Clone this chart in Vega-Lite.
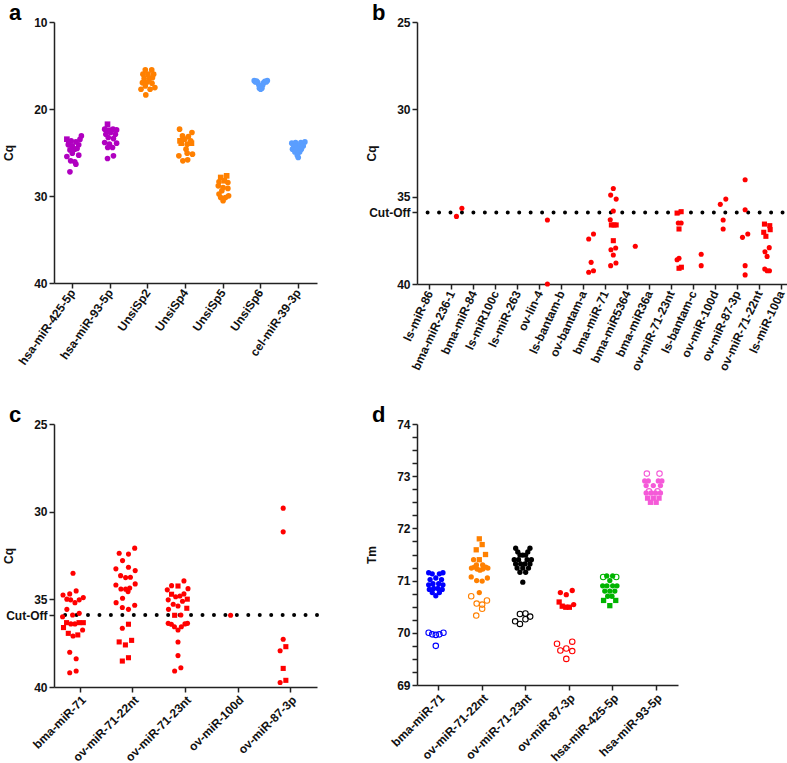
{
"$schema":"https://vega.github.io/schema/vega-lite/v6.json",
"padding":{"left":2,"top":2,"right":0,"bottom":0},
"background":"white",
"config":{"view":{"stroke":null},"font":"Liberation Sans",
"axis":{"domainColor":"#222","domainWidth":1.5,"tickColor":"#222","tickWidth":1.5,"tickSize":5,"labelFont":"Liberation Sans","labelFontWeight":"bold","labelFontSize":12,"labelColor":"#111","titleFont":"Liberation Sans","titleFontWeight":"bold","titleFontSize":12,"titleColor":"#111","grid":false,"labelPadding":2,"labelOverlap":false,"titleBaseline":"middle","titleX":-46},
"title":{"font":"Liberation Sans","fontWeight":"bold","fontSize":22,"anchor":"start","frame":"group","dx":-45,"offset":-9,"color":"#000"}},
"resolve":{"scale":{"color":"independent","shape":"independent"}},
"datasets":{
"a":[
{"gene":"hsa-miR-425-5p","cq":23.09,"jit":12,"batch":"1"},{"gene":"hsa-miR-425-5p","cq":23.47,"jit":-8.3,"batch":"2"},{"gene":"hsa-miR-425-5p","cq":23.66,"jit":-2.3,"batch":"1"},{"gene":"hsa-miR-425-5p","cq":23.78,"jit":4.3,"batch":"1"},{"gene":"hsa-miR-425-5p","cq":24.12,"jit":8.3,"batch":"1"},{"gene":"hsa-miR-425-5p","cq":24.12,"jit":-6.3,"batch":"1"},{"gene":"hsa-miR-425-5p","cq":24.24,"jit":-0.7,"batch":"1"},{"gene":"hsa-miR-425-5p","cq":24.62,"jit":2.7,"batch":"1"},{"gene":"hsa-miR-425-5p","cq":24.7,"jit":-4,"batch":"1"},{"gene":"hsa-miR-425-5p","cq":25.08,"jit":-0.7,"batch":"1"},{"gene":"hsa-miR-425-5p","cq":25.31,"jit":8.3,"batch":"1"},{"gene":"hsa-miR-425-5p","cq":25.46,"jit":-8.3,"batch":"1"},{"gene":"hsa-miR-425-5p","cq":25.96,"jit":-3,"batch":"1"},{"gene":"hsa-miR-425-5p","cq":26.07,"jit":2.7,"batch":"1"},{"gene":"hsa-miR-425-5p","cq":26.34,"jit":4.3,"batch":"1"},{"gene":"hsa-miR-425-5p","cq":27.22,"jit":-4,"batch":"1"},{"gene":"hsa-miR-425-5p","cq":23.78,"jit":-5.7,"batch":"2"},{"gene":"hsa-miR-425-5p","cq":24.54,"jit":6,"batch":"1"},{"gene":"hsa-miR-425-5p","cq":23.5,"jit":10,"batch":"1"},
{"gene":"hsa-miR-93-5p","cq":21.75,"jit":-4,"batch":"2"},{"gene":"hsa-miR-93-5p","cq":22.32,"jit":-8,"batch":"1"},{"gene":"hsa-miR-93-5p","cq":22.44,"jit":-3,"batch":"2"},{"gene":"hsa-miR-93-5p","cq":22.32,"jit":3.7,"batch":"1"},{"gene":"hsa-miR-93-5p","cq":22.4,"jit":8.7,"batch":"1"},{"gene":"hsa-miR-93-5p","cq":22.9,"jit":-6.3,"batch":"1"},{"gene":"hsa-miR-93-5p","cq":22.7,"jit":0.3,"batch":"1"},{"gene":"hsa-miR-93-5p","cq":22.9,"jit":7,"batch":"1"},{"gene":"hsa-miR-93-5p","cq":23.28,"jit":-3,"batch":"1"},{"gene":"hsa-miR-93-5p","cq":23.4,"jit":4.3,"batch":"1"},{"gene":"hsa-miR-93-5p","cq":23.85,"jit":-8,"batch":"1"},{"gene":"hsa-miR-93-5p","cq":24.04,"jit":-1.3,"batch":"1"},{"gene":"hsa-miR-93-5p","cq":23.93,"jit":8.7,"batch":"1"},{"gene":"hsa-miR-93-5p","cq":24.43,"jit":-3.7,"batch":"1"},{"gene":"hsa-miR-93-5p","cq":24.43,"jit":3,"batch":"1"},{"gene":"hsa-miR-93-5p","cq":25.69,"jit":-4,"batch":"1"},{"gene":"hsa-miR-93-5p","cq":25.38,"jit":4.3,"batch":"1"},
{"gene":"UnsiSp2","cq":15.51,"jit":-3.7,"batch":"1"},{"gene":"UnsiSp2","cq":15.51,"jit":5.3,"batch":"1"},{"gene":"UnsiSp2","cq":16.0,"jit":-7,"batch":"1"},{"gene":"UnsiSp2","cq":16.0,"jit":0,"batch":"2"},{"gene":"UnsiSp2","cq":16.0,"jit":8,"batch":"1"},{"gene":"UnsiSp2","cq":16.5,"jit":-5.3,"batch":"1"},{"gene":"UnsiSp2","cq":16.5,"jit":2.3,"batch":"1"},{"gene":"UnsiSp2","cq":16.4,"jit":6.3,"batch":"1"},{"gene":"UnsiSp2","cq":16.97,"jit":-7.7,"batch":"1"},{"gene":"UnsiSp2","cq":16.9,"jit":-1,"batch":"1"},{"gene":"UnsiSp2","cq":17.04,"jit":5.7,"batch":"1"},{"gene":"UnsiSp2","cq":17.73,"jit":-9.7,"batch":"1"},{"gene":"UnsiSp2","cq":17.73,"jit":3,"batch":"1"},{"gene":"UnsiSp2","cq":17.54,"jit":9.7,"batch":"1"},{"gene":"UnsiSp2","cq":18.38,"jit":-3,"batch":"1"},{"gene":"UnsiSp2","cq":17.35,"jit":-3.7,"batch":"1"},
{"gene":"UnsiSp4","cq":22.32,"jit":-8.3,"batch":"1"},{"gene":"UnsiSp4","cq":22.7,"jit":9,"batch":"1"},{"gene":"UnsiSp4","cq":23.09,"jit":-4.3,"batch":"1"},{"gene":"UnsiSp4","cq":23.16,"jit":4,"batch":"1"},{"gene":"UnsiSp4","cq":23.66,"jit":-7.7,"batch":"2"},{"gene":"UnsiSp4","cq":23.47,"jit":-1,"batch":"1"},{"gene":"UnsiSp4","cq":23.66,"jit":7.3,"batch":"1"},{"gene":"UnsiSp4","cq":23.93,"jit":-6,"batch":"2"},{"gene":"UnsiSp4","cq":24.04,"jit":2.3,"batch":"1"},{"gene":"UnsiSp4","cq":23.93,"jit":8.3,"batch":"2"},{"gene":"UnsiSp4","cq":24.62,"jit":0.7,"batch":"1"},{"gene":"UnsiSp4","cq":25.08,"jit":2.3,"batch":"1"},{"gene":"UnsiSp4","cq":25.38,"jit":-9.3,"batch":"1"},{"gene":"UnsiSp4","cq":25.19,"jit":9.7,"batch":"1"},{"gene":"UnsiSp4","cq":25.96,"jit":-3.7,"batch":"1"},{"gene":"UnsiSp4","cq":25.84,"jit":3,"batch":"1"},
{"gene":"UnsiSp5","cq":27.87,"jit":-3.3,"batch":"2"},{"gene":"UnsiSp5","cq":27.68,"jit":5,"batch":"2"},{"gene":"UnsiSp5","cq":28.37,"jit":-5.7,"batch":"1"},{"gene":"UnsiSp5","cq":28.25,"jit":1.7,"batch":"2"},{"gene":"UnsiSp5","cq":28.45,"jit":6.7,"batch":"1"},{"gene":"UnsiSp5","cq":28.83,"jit":-6.7,"batch":"1"},{"gene":"UnsiSp5","cq":29.02,"jit":0,"batch":"1"},{"gene":"UnsiSp5","cq":29.13,"jit":6.7,"batch":"1"},{"gene":"UnsiSp5","cq":29.4,"jit":-1.7,"batch":"1"},{"gene":"UnsiSp5","cq":29.78,"jit":-5.7,"batch":"1"},{"gene":"UnsiSp5","cq":29.98,"jit":7.7,"batch":"1"},{"gene":"UnsiSp5","cq":30.17,"jit":3.3,"batch":"1"},{"gene":"UnsiSp5","cq":30.17,"jit":-3.3,"batch":"1"},{"gene":"UnsiSp5","cq":30.55,"jit":0,"batch":"1"},
{"gene":"UnsiSp6","cq":16.74,"jit":-9,"batch":"1"},{"gene":"UnsiSp6","cq":16.97,"jit":-4,"batch":"1"},{"gene":"UnsiSp6","cq":17.42,"jit":0,"batch":"1"},{"gene":"UnsiSp6","cq":16.97,"jit":4.3,"batch":"1"},{"gene":"UnsiSp6","cq":16.74,"jit":9.3,"batch":"1"},{"gene":"UnsiSp6","cq":16.78,"jit":-5.7,"batch":"1"},{"gene":"UnsiSp6","cq":16.81,"jit":6,"batch":"1"},{"gene":"UnsiSp6","cq":17.27,"jit":-2.3,"batch":"1"},{"gene":"UnsiSp6","cq":17.27,"jit":2.7,"batch":"1"},{"gene":"UnsiSp6","cq":17.73,"jit":0,"batch":"1"},{"gene":"UnsiSp6","cq":16.89,"jit":-7.3,"batch":"1"},{"gene":"UnsiSp6","cq":16.89,"jit":7.7,"batch":"1"},{"gene":"UnsiSp6","cq":17.61,"jit":-1.7,"batch":"1"},{"gene":"UnsiSp6","cq":17.61,"jit":1.7,"batch":"1"},
{"gene":"cel-miR-39-3p","cq":23.93,"jit":-9,"batch":"1"},{"gene":"cel-miR-39-3p","cq":23.85,"jit":-3.7,"batch":"1"},{"gene":"cel-miR-39-3p","cq":23.85,"jit":3.7,"batch":"1"},{"gene":"cel-miR-39-3p","cq":23.78,"jit":9.3,"batch":"1"},{"gene":"cel-miR-39-3p","cq":24.24,"jit":-6.3,"batch":"1"},{"gene":"cel-miR-39-3p","cq":24.24,"jit":0,"batch":"1"},{"gene":"cel-miR-39-3p","cq":24.24,"jit":7,"batch":"1"},{"gene":"cel-miR-39-3p","cq":24.62,"jit":-8,"batch":"1"},{"gene":"cel-miR-39-3p","cq":24.54,"jit":-2.3,"batch":"1"},{"gene":"cel-miR-39-3p","cq":24.62,"jit":4.3,"batch":"1"},{"gene":"cel-miR-39-3p","cq":24.93,"jit":-4.7,"batch":"1"},{"gene":"cel-miR-39-3p","cq":24.93,"jit":2,"batch":"1"},{"gene":"cel-miR-39-3p","cq":25.31,"jit":-1.3,"batch":"1"},{"gene":"cel-miR-39-3p","cq":25.58,"jit":0,"batch":"1"}
],
"b":[
{"gene":"bma-miR-236-1","cq":36.13,"jit":-4.3,"batch":"1"},{"gene":"bma-miR-236-1","cq":35.67,"jit":3.3,"batch":"1"},
{"gene":"ov-lin-4","cq":36.34,"jit":0,"batch":"1"},{"gene":"ov-lin-4","cq":40.0,"jit":0,"batch":"1"},
{"gene":"ov-bantam-a","cq":37.42,"jit":-3.7,"batch":"1"},{"gene":"ov-bantam-a","cq":37.14,"jit":3,"batch":"1"},{"gene":"ov-bantam-a","cq":38.76,"jit":-0.3,"batch":"1"},{"gene":"ov-bantam-a","cq":39.33,"jit":-3.7,"batch":"1"},{"gene":"ov-bantam-a","cq":39.24,"jit":3,"batch":"1"},
{"gene":"bma-miR-71","cq":34.53,"jit":0,"batch":"1"},{"gene":"bma-miR-71","cq":34.91,"jit":-3.7,"batch":"1"},{"gene":"bma-miR-71","cq":35.14,"jit":4,"batch":"1"},{"gene":"bma-miR-71","cq":35.82,"jit":0,"batch":"1"},{"gene":"bma-miR-71","cq":36.32,"jit":-4.3,"batch":"1"},{"gene":"bma-miR-71","cq":36.62,"jit":-2.7,"batch":"2"},{"gene":"bma-miR-71","cq":36.62,"jit":1,"batch":"2"},{"gene":"bma-miR-71","cq":36.62,"jit":4,"batch":"2"},{"gene":"bma-miR-71","cq":37.52,"jit":0,"batch":"2"},{"gene":"bma-miR-71","cq":38.04,"jit":-3.3,"batch":"1"},{"gene":"bma-miR-71","cq":37.94,"jit":3.3,"batch":"1"},{"gene":"bma-miR-71","cq":38.34,"jit":0,"batch":"1"},{"gene":"bma-miR-71","cq":38.95,"jit":-3.7,"batch":"1"},{"gene":"bma-miR-71","cq":38.8,"jit":3.7,"batch":"1"},
{"gene":"bma-miR5364","cq":37.84,"jit":0,"batch":"1"},
{"gene":"ov-miR-71-23nt","cq":35.94,"jit":-3,"batch":"2"},{"gene":"ov-miR-71-23nt","cq":35.86,"jit":2.7,"batch":"2"},{"gene":"ov-miR-71-23nt","cq":36.51,"jit":-1.3,"batch":"1"},{"gene":"ov-miR-71-23nt","cq":36.51,"jit":2.7,"batch":"1"},{"gene":"ov-miR-71-23nt","cq":36.85,"jit":-0.3,"batch":"2"},{"gene":"ov-miR-71-23nt","cq":38.61,"jit":-3,"batch":"1"},{"gene":"ov-miR-71-23nt","cq":38.53,"jit":-0.3,"batch":"1"},{"gene":"ov-miR-71-23nt","cq":39.1,"jit":-0.3,"batch":"2"},{"gene":"ov-miR-71-23nt","cq":39.04,"jit":3,"batch":"2"},
{"gene":"ls-bantam-c","cq":38.3,"jit":0,"batch":"1"},{"gene":"ls-bantam-c","cq":38.95,"jit":0,"batch":"1"},
{"gene":"ov-miR-100d","cq":35.44,"jit":-4,"batch":"1"},{"gene":"ov-miR-100d","cq":35.14,"jit":3.7,"batch":"1"},{"gene":"ov-miR-100d","cq":36.34,"jit":0,"batch":"1"},{"gene":"ov-miR-100d","cq":36.85,"jit":0,"batch":"1"},
{"gene":"ov-miR-87-3p","cq":34.03,"jit":0,"batch":"1"},{"gene":"ov-miR-87-3p","cq":35.75,"jit":0,"batch":"1"},{"gene":"ov-miR-87-3p","cq":37.33,"jit":-3.7,"batch":"1"},{"gene":"ov-miR-87-3p","cq":37.14,"jit":3.7,"batch":"1"},{"gene":"ov-miR-87-3p","cq":38.95,"jit":0,"batch":"1"},{"gene":"ov-miR-87-3p","cq":39.48,"jit":0,"batch":"1"},
{"gene":"ov-miR-71-22nt","cq":36.57,"jit":-3.7,"batch":"2"},{"gene":"ov-miR-71-22nt","cq":36.66,"jit":3.7,"batch":"2"},{"gene":"ov-miR-71-22nt","cq":37.04,"jit":-4.7,"batch":"2"},{"gene":"ov-miR-71-22nt","cq":36.89,"jit":4.3,"batch":"2"},{"gene":"ov-miR-71-22nt","cq":37.27,"jit":-1.7,"batch":"2"},{"gene":"ov-miR-71-22nt","cq":37.92,"jit":3,"batch":"1"},{"gene":"ov-miR-71-22nt","cq":38.15,"jit":-3,"batch":"1"},{"gene":"ov-miR-71-22nt","cq":38.42,"jit":0,"batch":"1"},{"gene":"ov-miR-71-22nt","cq":39.14,"jit":-3.3,"batch":"1"},{"gene":"ov-miR-71-22nt","cq":39.24,"jit":0,"batch":"1"},{"gene":"ov-miR-71-22nt","cq":39.24,"jit":3.3,"batch":"1"}
],
"c":[
{"gene":"bma-miR-71","cq":33.51,"jit":0.3,"batch":"1"},{"gene":"bma-miR-71","cq":34.75,"jit":-13.7,"batch":"1"},{"gene":"bma-miR-71","cq":34.69,"jit":-4.3,"batch":"1"},{"gene":"bma-miR-71","cq":34.52,"jit":4.7,"batch":"1"},{"gene":"bma-miR-71","cq":34.99,"jit":-8.3,"batch":"1"},{"gene":"bma-miR-71","cq":35.03,"jit":-3,"batch":"1"},{"gene":"bma-miR-71","cq":35.19,"jit":3,"batch":"1"},{"gene":"bma-miR-71","cq":35.03,"jit":9,"batch":"1"},{"gene":"bma-miR-71","cq":34.9,"jit":14.7,"batch":"1"},{"gene":"bma-miR-71","cq":35.57,"jit":-8.3,"batch":"1"},{"gene":"bma-miR-71","cq":35.89,"jit":-0.3,"batch":"1"},{"gene":"bma-miR-71","cq":35.8,"jit":9,"batch":"1"},{"gene":"bma-miR-71","cq":35.99,"jit":-14.3,"batch":"1"},{"gene":"bma-miR-71","cq":36.33,"jit":-8.7,"batch":"2"},{"gene":"bma-miR-71","cq":36.4,"jit":-2.7,"batch":"1"},{"gene":"bma-miR-71","cq":36.4,"jit":3,"batch":"1"},{"gene":"bma-miR-71","cq":36.33,"jit":8.7,"batch":"2"},{"gene":"bma-miR-71","cq":36.33,"jit":14.7,"batch":"2"},{"gene":"bma-miR-71","cq":36.61,"jit":-13,"batch":"2"},{"gene":"bma-miR-71","cq":36.94,"jit":-6.3,"batch":"2"},{"gene":"bma-miR-71","cq":37.09,"jit":0.3,"batch":"1"},{"gene":"bma-miR-71","cq":37.03,"jit":7,"batch":"2"},{"gene":"bma-miR-71","cq":36.75,"jit":13.7,"batch":"1"},{"gene":"bma-miR-71","cq":38.02,"jit":-4.3,"batch":"1"},{"gene":"bma-miR-71","cq":38.39,"jit":4.7,"batch":"1"},{"gene":"bma-miR-71","cq":39.19,"jit":-4.3,"batch":"1"},{"gene":"bma-miR-71","cq":39.09,"jit":4.7,"batch":"1"},
{"gene":"ov-miR-71-22nt","cq":32.08,"jit":13,"batch":"1"},{"gene":"ov-miR-71-22nt","cq":32.37,"jit":-8.7,"batch":"1"},{"gene":"ov-miR-71-22nt","cq":32.42,"jit":4.3,"batch":"1"},{"gene":"ov-miR-71-22nt","cq":32.79,"jit":-4,"batch":"1"},{"gene":"ov-miR-71-22nt","cq":33.26,"jit":-13.3,"batch":"1"},{"gene":"ov-miR-71-22nt","cq":33.17,"jit":4.3,"batch":"1"},{"gene":"ov-miR-71-22nt","cq":33.36,"jit":13.7,"batch":"1"},{"gene":"ov-miR-71-22nt","cq":33.65,"jit":-6.7,"batch":"1"},{"gene":"ov-miR-71-22nt","cq":33.76,"jit":0.3,"batch":"1"},{"gene":"ov-miR-71-22nt","cq":33.74,"jit":7,"batch":"1"},{"gene":"ov-miR-71-22nt","cq":34.18,"jit":-13.3,"batch":"1"},{"gene":"ov-miR-71-22nt","cq":34.41,"jit":-6.3,"batch":"1"},{"gene":"ov-miR-71-22nt","cq":34.42,"jit":0.3,"batch":"1"},{"gene":"ov-miR-71-22nt","cq":34.35,"jit":6,"batch":"1"},{"gene":"ov-miR-71-22nt","cq":34.56,"jit":3.7,"batch":"1"},{"gene":"ov-miR-71-22nt","cq":34.12,"jit":13.7,"batch":"1"},{"gene":"ov-miR-71-22nt","cq":34.94,"jit":-4,"batch":"1"},{"gene":"ov-miR-71-22nt","cq":35.19,"jit":-13,"batch":"1"},{"gene":"ov-miR-71-22nt","cq":35.47,"jit":-4.3,"batch":"1"},{"gene":"ov-miR-71-22nt","cq":35.57,"jit":4.3,"batch":"1"},{"gene":"ov-miR-71-22nt","cq":35.34,"jit":13,"batch":"1"},{"gene":"ov-miR-71-22nt","cq":36.42,"jit":4.3,"batch":"2"},{"gene":"ov-miR-71-22nt","cq":36.65,"jit":-4.3,"batch":"1"},{"gene":"ov-miR-71-22nt","cq":37.43,"jit":-8.7,"batch":"2"},{"gene":"ov-miR-71-22nt","cq":37.6,"jit":0,"batch":"2"},{"gene":"ov-miR-71-22nt","cq":37.34,"jit":8.7,"batch":"2"},{"gene":"ov-miR-71-22nt","cq":38.52,"jit":-4.3,"batch":"2"},{"gene":"ov-miR-71-22nt","cq":38.33,"jit":4.3,"batch":"2"},
{"gene":"ov-miR-71-23nt","cq":33.95,"jit":8.3,"batch":"1"},{"gene":"ov-miR-71-23nt","cq":34.22,"jit":-9,"batch":"1"},{"gene":"ov-miR-71-23nt","cq":34.24,"jit":0,"batch":"2"},{"gene":"ov-miR-71-23nt","cq":34.46,"jit":-15,"batch":"1"},{"gene":"ov-miR-71-23nt","cq":34.39,"jit":14,"batch":"1"},{"gene":"ov-miR-71-23nt","cq":34.71,"jit":-9,"batch":"2"},{"gene":"ov-miR-71-23nt","cq":34.85,"jit":-3.3,"batch":"1"},{"gene":"ov-miR-71-23nt","cq":34.81,"jit":2.7,"batch":"1"},{"gene":"ov-miR-71-23nt","cq":34.69,"jit":8.3,"batch":"1"},{"gene":"ov-miR-71-23nt","cq":35.03,"jit":-13.7,"batch":"1"},{"gene":"ov-miR-71-23nt","cq":35.11,"jit":6.3,"batch":"1"},{"gene":"ov-miR-71-23nt","cq":34.99,"jit":13,"batch":"2"},{"gene":"ov-miR-71-23nt","cq":35.28,"jit":-6.7,"batch":"1"},{"gene":"ov-miR-71-23nt","cq":35.38,"jit":0,"batch":"1"},{"gene":"ov-miR-71-23nt","cq":35.57,"jit":-13.3,"batch":"1"},{"gene":"ov-miR-71-23nt","cq":35.51,"jit":12.3,"batch":"2"},{"gene":"ov-miR-71-23nt","cq":35.91,"jit":-4.7,"batch":"2"},{"gene":"ov-miR-71-23nt","cq":35.89,"jit":4,"batch":"1"},{"gene":"ov-miR-71-23nt","cq":36.37,"jit":-13.7,"batch":"1"},{"gene":"ov-miR-71-23nt","cq":36.42,"jit":-9.3,"batch":"1"},{"gene":"ov-miR-71-23nt","cq":36.56,"jit":-5,"batch":"1"},{"gene":"ov-miR-71-23nt","cq":36.75,"jit":0,"batch":"1"},{"gene":"ov-miR-71-23nt","cq":36.56,"jit":4.7,"batch":"1"},{"gene":"ov-miR-71-23nt","cq":36.4,"jit":9.7,"batch":"1"},{"gene":"ov-miR-71-23nt","cq":36.37,"jit":13.3,"batch":"1"},{"gene":"ov-miR-71-23nt","cq":37.43,"jit":0,"batch":"1"},{"gene":"ov-miR-71-23nt","cq":38.21,"jit":0,"batch":"1"},{"gene":"ov-miR-71-23nt","cq":39.09,"jit":-4.7,"batch":"1"},{"gene":"ov-miR-71-23nt","cq":38.9,"jit":4,"batch":"1"},
{"gene":"ov-miR-100d","cq":35.91,"jit":0,"batch":"1"},
{"gene":"ov-miR-87-3p","cq":29.8,"jit":0,"batch":"1"},{"gene":"ov-miR-87-3p","cq":31.15,"jit":0,"batch":"1"},{"gene":"ov-miR-87-3p","cq":37.28,"jit":0,"batch":"1"},{"gene":"ov-miR-87-3p","cq":37.93,"jit":-4.3,"batch":"1"},{"gene":"ov-miR-87-3p","cq":37.7,"jit":3.7,"batch":"2"},{"gene":"ov-miR-87-3p","cq":38.94,"jit":0,"batch":"2"},{"gene":"ov-miR-87-3p","cq":39.74,"jit":-4.3,"batch":"1"},{"gene":"ov-miR-87-3p","cq":39.62,"jit":3.7,"batch":"2"}
],
"d":[
{"gene":"bma-miR-71","tm":71.15,"jit":-10,"batch":"1","fill":"y"},{"gene":"bma-miR-71","tm":71.13,"jit":-5,"batch":"1","fill":"y"},{"gene":"bma-miR-71","tm":71.13,"jit":5,"batch":"1","fill":"y"},{"gene":"bma-miR-71","tm":71.15,"jit":10,"batch":"1","fill":"y"},{"gene":"bma-miR-71","tm":71.02,"jit":-8,"batch":"1","fill":"y"},{"gene":"bma-miR-71","tm":71.05,"jit":0,"batch":"1","fill":"y"},{"gene":"bma-miR-71","tm":71.02,"jit":8,"batch":"1","fill":"y"},{"gene":"bma-miR-71","tm":70.92,"jit":-10,"batch":"1","fill":"y"},{"gene":"bma-miR-71","tm":70.94,"jit":-4,"batch":"1","fill":"y"},{"gene":"bma-miR-71","tm":70.94,"jit":4,"batch":"1","fill":"y"},{"gene":"bma-miR-71","tm":70.92,"jit":10,"batch":"1","fill":"y"},{"gene":"bma-miR-71","tm":70.83,"jit":-9,"batch":"1","fill":"y"},{"gene":"bma-miR-71","tm":70.85,"jit":-3,"batch":"1","fill":"y"},{"gene":"bma-miR-71","tm":70.85,"jit":3,"batch":"1","fill":"y"},{"gene":"bma-miR-71","tm":70.83,"jit":9,"batch":"1","fill":"y"},{"gene":"bma-miR-71","tm":70.77,"jit":-5,"batch":"1","fill":"y"},{"gene":"bma-miR-71","tm":70.77,"jit":5,"batch":"1","fill":"y"},{"gene":"bma-miR-71","tm":70.71,"jit":0,"batch":"1","fill":"y"},
{"gene":"bma-miR-71","tm":70.0,"jit":-10,"batch":"1","fill":"n"},{"gene":"bma-miR-71","tm":69.97,"jit":-5,"batch":"1","fill":"n"},{"gene":"bma-miR-71","tm":69.96,"jit":0,"batch":"1","fill":"n"},{"gene":"bma-miR-71","tm":69.97,"jit":5,"batch":"1","fill":"n"},{"gene":"bma-miR-71","tm":70.0,"jit":10.7,"batch":"1","fill":"n"},{"gene":"bma-miR-71","tm":69.75,"jit":0,"batch":"1","fill":"n"},
{"gene":"ov-miR-71-22nt","tm":71.8,"jit":0,"batch":"2","fill":"y"},{"gene":"ov-miR-71-22nt","tm":71.69,"jit":4,"batch":"2","fill":"y"},{"gene":"ov-miR-71-22nt","tm":71.59,"jit":-4.3,"batch":"2","fill":"y"},{"gene":"ov-miR-71-22nt","tm":71.5,"jit":8.7,"batch":"2","fill":"y"},{"gene":"ov-miR-71-22nt","tm":71.4,"jit":0,"batch":"2","fill":"y"},{"gene":"ov-miR-71-22nt","tm":71.4,"jit":-8,"batch":"1","fill":"y"},{"gene":"ov-miR-71-22nt","tm":71.3,"jit":-4,"batch":"1","fill":"y"},{"gene":"ov-miR-71-22nt","tm":71.3,"jit":4.7,"batch":"1","fill":"y"},{"gene":"ov-miR-71-22nt","tm":71.24,"jit":-11,"batch":"1","fill":"y"},{"gene":"ov-miR-71-22nt","tm":71.26,"jit":-7,"batch":"1","fill":"y"},{"gene":"ov-miR-71-22nt","tm":71.22,"jit":-3,"batch":"1","fill":"y"},{"gene":"ov-miR-71-22nt","tm":71.2,"jit":1,"batch":"1","fill":"y"},{"gene":"ov-miR-71-22nt","tm":71.22,"jit":5,"batch":"1","fill":"y"},{"gene":"ov-miR-71-22nt","tm":71.26,"jit":9,"batch":"1","fill":"y"},{"gene":"ov-miR-71-22nt","tm":71.24,"jit":12,"batch":"1","fill":"y"},{"gene":"ov-miR-71-22nt","tm":71.07,"jit":-11.3,"batch":"1","fill":"y"},{"gene":"ov-miR-71-22nt","tm":71.0,"jit":-3.7,"batch":"1","fill":"y"},{"gene":"ov-miR-71-22nt","tm":70.99,"jit":4,"batch":"1","fill":"y"},{"gene":"ov-miR-71-22nt","tm":71.05,"jit":11.3,"batch":"1","fill":"y"},{"gene":"ov-miR-71-22nt","tm":70.77,"jit":0,"batch":"1","fill":"y"},
{"gene":"ov-miR-71-22nt","tm":70.7,"jit":-11.3,"batch":"1","fill":"n"},{"gene":"ov-miR-71-22nt","tm":70.56,"jit":-3.7,"batch":"1","fill":"n"},{"gene":"ov-miR-71-22nt","tm":70.54,"jit":4,"batch":"1","fill":"n"},{"gene":"ov-miR-71-22nt","tm":70.62,"jit":10.7,"batch":"1","fill":"n"},{"gene":"ov-miR-71-22nt","tm":70.46,"jit":4,"batch":"1","fill":"n"},{"gene":"ov-miR-71-22nt","tm":70.33,"jit":-4.3,"batch":"1","fill":"n"},
{"gene":"ov-miR-71-23nt","tm":71.62,"jit":-10,"batch":"1","fill":"y"},{"gene":"ov-miR-71-23nt","tm":71.62,"jit":10,"batch":"1","fill":"y"},{"gene":"ov-miR-71-23nt","tm":71.55,"jit":-7,"batch":"1","fill":"y"},{"gene":"ov-miR-71-23nt","tm":71.55,"jit":7,"batch":"1","fill":"y"},{"gene":"ov-miR-71-23nt","tm":71.49,"jit":-4,"batch":"1","fill":"y"},{"gene":"ov-miR-71-23nt","tm":71.49,"jit":0,"batch":"1","fill":"y"},{"gene":"ov-miR-71-23nt","tm":71.49,"jit":4,"batch":"1","fill":"y"},{"gene":"ov-miR-71-23nt","tm":71.4,"jit":-12,"batch":"1","fill":"y"},{"gene":"ov-miR-71-23nt","tm":71.4,"jit":-6,"batch":"1","fill":"y"},{"gene":"ov-miR-71-23nt","tm":71.4,"jit":6,"batch":"1","fill":"y"},{"gene":"ov-miR-71-23nt","tm":71.4,"jit":12,"batch":"1","fill":"y"},{"gene":"ov-miR-71-23nt","tm":71.32,"jit":-10,"batch":"1","fill":"y"},{"gene":"ov-miR-71-23nt","tm":71.32,"jit":-3,"batch":"1","fill":"y"},{"gene":"ov-miR-71-23nt","tm":71.32,"jit":3,"batch":"1","fill":"y"},{"gene":"ov-miR-71-23nt","tm":71.32,"jit":10,"batch":"1","fill":"y"},{"gene":"ov-miR-71-23nt","tm":71.24,"jit":-8,"batch":"1","fill":"y"},{"gene":"ov-miR-71-23nt","tm":71.24,"jit":0,"batch":"1","fill":"y"},{"gene":"ov-miR-71-23nt","tm":71.24,"jit":8,"batch":"1","fill":"y"},{"gene":"ov-miR-71-23nt","tm":71.16,"jit":-4,"batch":"1","fill":"y"},{"gene":"ov-miR-71-23nt","tm":71.16,"jit":4,"batch":"1","fill":"y"},{"gene":"ov-miR-71-23nt","tm":70.97,"jit":0,"batch":"1","fill":"y"},
{"gene":"ov-miR-71-23nt","tm":70.22,"jit":-10.7,"batch":"1","fill":"n"},{"gene":"ov-miR-71-23nt","tm":70.36,"jit":-4,"batch":"1","fill":"n"},{"gene":"ov-miR-71-23nt","tm":70.17,"jit":-4,"batch":"1","fill":"n"},{"gene":"ov-miR-71-23nt","tm":70.26,"jit":3.7,"batch":"1","fill":"n"},{"gene":"ov-miR-71-23nt","tm":70.37,"jit":3.7,"batch":"1","fill":"n"},{"gene":"ov-miR-71-23nt","tm":70.31,"jit":10.3,"batch":"1","fill":"n"},
{"gene":"ov-miR-87-3p","tm":70.77,"jit":-8.3,"batch":"1","fill":"y"},{"gene":"ov-miR-87-3p","tm":70.73,"jit":0,"batch":"1","fill":"y"},{"gene":"ov-miR-87-3p","tm":70.81,"jit":8.3,"batch":"1","fill":"y"},{"gene":"ov-miR-87-3p","tm":70.59,"jit":-10,"batch":"2","fill":"y"},{"gene":"ov-miR-87-3p","tm":70.51,"jit":-5.7,"batch":"2","fill":"y"},{"gene":"ov-miR-87-3p","tm":70.49,"jit":-0.7,"batch":"2","fill":"y"},{"gene":"ov-miR-87-3p","tm":70.49,"jit":4.3,"batch":"2","fill":"y"},{"gene":"ov-miR-87-3p","tm":70.54,"jit":10.3,"batch":"1","fill":"y"},
{"gene":"ov-miR-87-3p","tm":69.79,"jit":-13,"batch":"1","fill":"n"},{"gene":"ov-miR-87-3p","tm":69.66,"jit":-8.3,"batch":"1","fill":"n"},{"gene":"ov-miR-87-3p","tm":69.7,"jit":0,"batch":"1","fill":"n"},{"gene":"ov-miR-87-3p","tm":69.83,"jit":8.3,"batch":"1","fill":"n"},{"gene":"ov-miR-87-3p","tm":69.65,"jit":8.3,"batch":"1","fill":"n"},{"gene":"ov-miR-87-3p","tm":69.5,"jit":0,"batch":"1","fill":"n"},
{"gene":"hsa-miR-425-5p","tm":71.07,"jit":-9.3,"batch":"1","fill":"n"},{"gene":"hsa-miR-425-5p","tm":71.07,"jit":9,"batch":"1","fill":"n"},{"gene":"hsa-miR-425-5p","tm":71.09,"jit":-4.3,"batch":"1","fill":"y"},{"gene":"hsa-miR-425-5p","tm":71.09,"jit":4,"batch":"1","fill":"y"},{"gene":"hsa-miR-425-5p","tm":71.0,"jit":0,"batch":"1","fill":"y"},{"gene":"hsa-miR-425-5p","tm":70.9,"jit":-10,"batch":"1","fill":"y"},{"gene":"hsa-miR-425-5p","tm":70.9,"jit":-4,"batch":"1","fill":"y"},{"gene":"hsa-miR-425-5p","tm":70.9,"jit":4,"batch":"1","fill":"y"},{"gene":"hsa-miR-425-5p","tm":70.9,"jit":10,"batch":"1","fill":"y"},{"gene":"hsa-miR-425-5p","tm":70.8,"jit":-7,"batch":"1","fill":"y"},{"gene":"hsa-miR-425-5p","tm":70.8,"jit":0,"batch":"1","fill":"y"},{"gene":"hsa-miR-425-5p","tm":70.8,"jit":7,"batch":"1","fill":"y"},{"gene":"hsa-miR-425-5p","tm":70.7,"jit":-3,"batch":"1","fill":"y"},{"gene":"hsa-miR-425-5p","tm":70.7,"jit":3,"batch":"1","fill":"y"},{"gene":"hsa-miR-425-5p","tm":70.62,"jit":-8.7,"batch":"2","fill":"y"},{"gene":"hsa-miR-425-5p","tm":70.62,"jit":8.3,"batch":"2","fill":"y"},{"gene":"hsa-miR-425-5p","tm":70.52,"jit":0,"batch":"2","fill":"y"},
{"gene":"hsa-miR-93-5p","tm":73.05,"jit":-9,"batch":"1","fill":"n"},{"gene":"hsa-miR-93-5p","tm":73.05,"jit":8.7,"batch":"1","fill":"n"},{"gene":"hsa-miR-93-5p","tm":72.91,"jit":-12,"batch":"1","fill":"y"},{"gene":"hsa-miR-93-5p","tm":72.91,"jit":-7,"batch":"1","fill":"y"},{"gene":"hsa-miR-93-5p","tm":72.91,"jit":7,"batch":"1","fill":"y"},{"gene":"hsa-miR-93-5p","tm":72.91,"jit":12,"batch":"1","fill":"y"},{"gene":"hsa-miR-93-5p","tm":72.82,"jit":-10,"batch":"1","fill":"y"},{"gene":"hsa-miR-93-5p","tm":72.82,"jit":0,"batch":"1","fill":"y"},{"gene":"hsa-miR-93-5p","tm":72.82,"jit":10,"batch":"1","fill":"y"},{"gene":"hsa-miR-93-5p","tm":72.71,"jit":-6,"batch":"1","fill":"n"},{"gene":"hsa-miR-93-5p","tm":72.71,"jit":6,"batch":"1","fill":"n"},{"gene":"hsa-miR-93-5p","tm":72.68,"jit":-10,"batch":"1","fill":"y"},{"gene":"hsa-miR-93-5p","tm":72.68,"jit":-3,"batch":"1","fill":"y"},{"gene":"hsa-miR-93-5p","tm":72.68,"jit":3,"batch":"1","fill":"y"},{"gene":"hsa-miR-93-5p","tm":72.68,"jit":10,"batch":"1","fill":"y"},{"gene":"hsa-miR-93-5p","tm":72.58,"jit":-8,"batch":"2","fill":"y"},{"gene":"hsa-miR-93-5p","tm":72.58,"jit":0,"batch":"2","fill":"y"},{"gene":"hsa-miR-93-5p","tm":72.58,"jit":8,"batch":"2","fill":"y"},{"gene":"hsa-miR-93-5p","tm":72.5,"jit":-4,"batch":"2","fill":"y"},{"gene":"hsa-miR-93-5p","tm":72.5,"jit":4,"batch":"2","fill":"y"}
],
"cut":[{"cq":35.9}]
},
"concat":[
{"width":263,"height":261,"title":{"text":"a"},"data":{"name":"a"},
"mark":{"type":"point","filled":true,"size":32,"opacity":1},
"encoding":{
"x":{"field":"gene","type":"nominal","scale":{"type":"band","domain":["hsa-miR-425-5p","hsa-miR-93-5p","UnsiSp2","UnsiSp4","UnsiSp5","UnsiSp6","cel-miR-39-3p"],"paddingInner":0,"paddingOuter":0},"axis":{"title":null,"labelAngle":-55}},
"xOffset":{"field":"jit","type":"quantitative","scale":{"domain":[-18.8,18.8],"range":[0,37.6]}},
"y":{"field":"cq","type":"quantitative","scale":{"domain":[10,40],"reverse":true,"nice":false,"zero":false},"axis":{"title":"Cq","values":[10,20,30,40]}},
"color":{"field":"gene","type":"nominal","scale":{"domain":["hsa-miR-425-5p","hsa-miR-93-5p","UnsiSp2","UnsiSp4","UnsiSp5","UnsiSp6","cel-miR-39-3p"],"range":["#B000C0","#B000C0","#FF8000","#FF8000","#FF8000","#5A9EFF","#5A9EFF"]},"legend":null},
"shape":{"field":"batch","type":"nominal","scale":{"domain":["1","2"],"range":["circle","square"]},"legend":null}}},
{"width":377,"height":262,"title":{"text":"b"},
"layer":[
{"data":{"name":"cut"},"mark":{"type":"rule","color":"#000","strokeWidth":4,"strokeCap":"round","strokeDash":[0,11.45]},"encoding":{"y":{"field":"cq","type":"quantitative"}}},
{"data":{"name":"b"},"mark":{"type":"point","filled":true,"size":26,"opacity":1,"color":"#FF0000"},
"encoding":{
"x":{"field":"gene","type":"nominal","scale":{"type":"band","domain":["ls-miR-86","bma-miR-236-1","bma-miR-84","ls-miR100c","ls-miR-263","ov-lin-4","ls-bantam-b","ov-bantam-a","bma-miR-71","bma-miR5364","bma-miR36a","ov-miR-71-23nt","ls-bantam-c","ov-miR-100d","ov-miR-87-3p","ov-miR-71-22nt","ls-miR-100a"],"paddingInner":0,"paddingOuter":0.08},"axis":{"title":null,"labelAngle":-65}},
"xOffset":{"field":"jit","type":"quantitative","scale":{"domain":[-10.97,10.97],"range":[0,21.94]}},
"y":{"field":"cq","type":"quantitative","scale":{"domain":[25,40],"reverse":true,"nice":false,"zero":false},"axis":{"title":"Cq","values":[25,30,35,35.9,40],"labelExpr":"datum.value == 35.9 ? 'Cut-Off' : datum.label"}},
"shape":{"field":"batch","type":"nominal","scale":{"domain":["1","2"],"range":["circle","square"]},"legend":null}}}
]},
{"width":263,"height":263,"title":{"text":"c"},
"layer":[
{"data":{"name":"cut"},"mark":{"type":"rule","color":"#000","strokeWidth":4,"strokeCap":"round","strokeDash":[0,11.45]},"encoding":{"y":{"field":"cq","type":"quantitative"}}},
{"data":{"name":"c"},"mark":{"type":"point","filled":true,"size":26,"opacity":1,"color":"#FF0000"},
"encoding":{
"x":{"field":"gene","type":"nominal","scale":{"type":"band","domain":["bma-miR-71","ov-miR-71-22nt","ov-miR-71-23nt","ov-miR-100d","ov-miR-87-3p"],"paddingInner":0,"paddingOuter":0},"axis":{"title":null,"labelAngle":-45}},
"xOffset":{"field":"jit","type":"quantitative","scale":{"domain":[-26.3,26.3],"range":[0,52.6]}},
"y":{"field":"cq","type":"quantitative","scale":{"domain":[25,40],"reverse":true,"nice":false,"zero":false},"axis":{"title":"Cq","values":[25,30,35,35.9,40],"labelExpr":"datum.value == 35.9 ? 'Cut-Off' : datum.label"}},
"shape":{"field":"batch","type":"nominal","scale":{"domain":["1","2"],"range":["circle","square"]},"legend":null}}}
]},
{"width":261,"height":261,"title":{"text":"d"},"data":{"name":"d"},
"encoding":{
"x":{"field":"gene","type":"nominal","scale":{"type":"band","domain":["bma-miR-71","ov-miR-71-22nt","ov-miR-71-23nt","ov-miR-87-3p","hsa-miR-425-5p","hsa-miR-93-5p"],"paddingInner":0,"paddingOuter":0},"axis":{"title":null,"labelAngle":-45}},
"xOffset":{"field":"jit","type":"quantitative","scale":{"domain":[-21.8,21.8],"range":[0,43.6]}},
"y":{"field":"tm","type":"quantitative","scale":{"domain":[69,74],"nice":false,"zero":false},"axis":{"title":"Tm","values":[69,69.25,69.5,69.75,70,70.25,70.5,70.75,71,71.25,71.5,71.75,72,72.25,72.5,72.75,73,73.25,73.5,73.75,74],"labelExpr":"datum.value % 1 === 0 ? format(datum.value, 'd') : ''"}},
"color":{"field":"gene","type":"nominal","scale":{"domain":["bma-miR-71","ov-miR-71-22nt","ov-miR-71-23nt","ov-miR-87-3p","hsa-miR-425-5p","hsa-miR-93-5p"],"range":["#0000FF","#FF8000","#000000","#FF0000","#00B400","#F55AD8"]},"legend":null}},
"layer":[
{"transform":[{"filter":"datum.fill == 'y'"}],"mark":{"type":"point","filled":true,"size":28,"opacity":1},
"encoding":{"shape":{"field":"batch","type":"nominal","scale":{"domain":["1","2"],"range":["circle","square"]},"legend":null}}},
{"transform":[{"filter":"datum.fill == 'n'"}],"mark":{"type":"point","filled":false,"shape":"circle","size":30,"strokeWidth":1.1,"opacity":1}}
]}
],
"columns":2,
"align":"each",
"spacing":{"row":31,"column":46}
}
